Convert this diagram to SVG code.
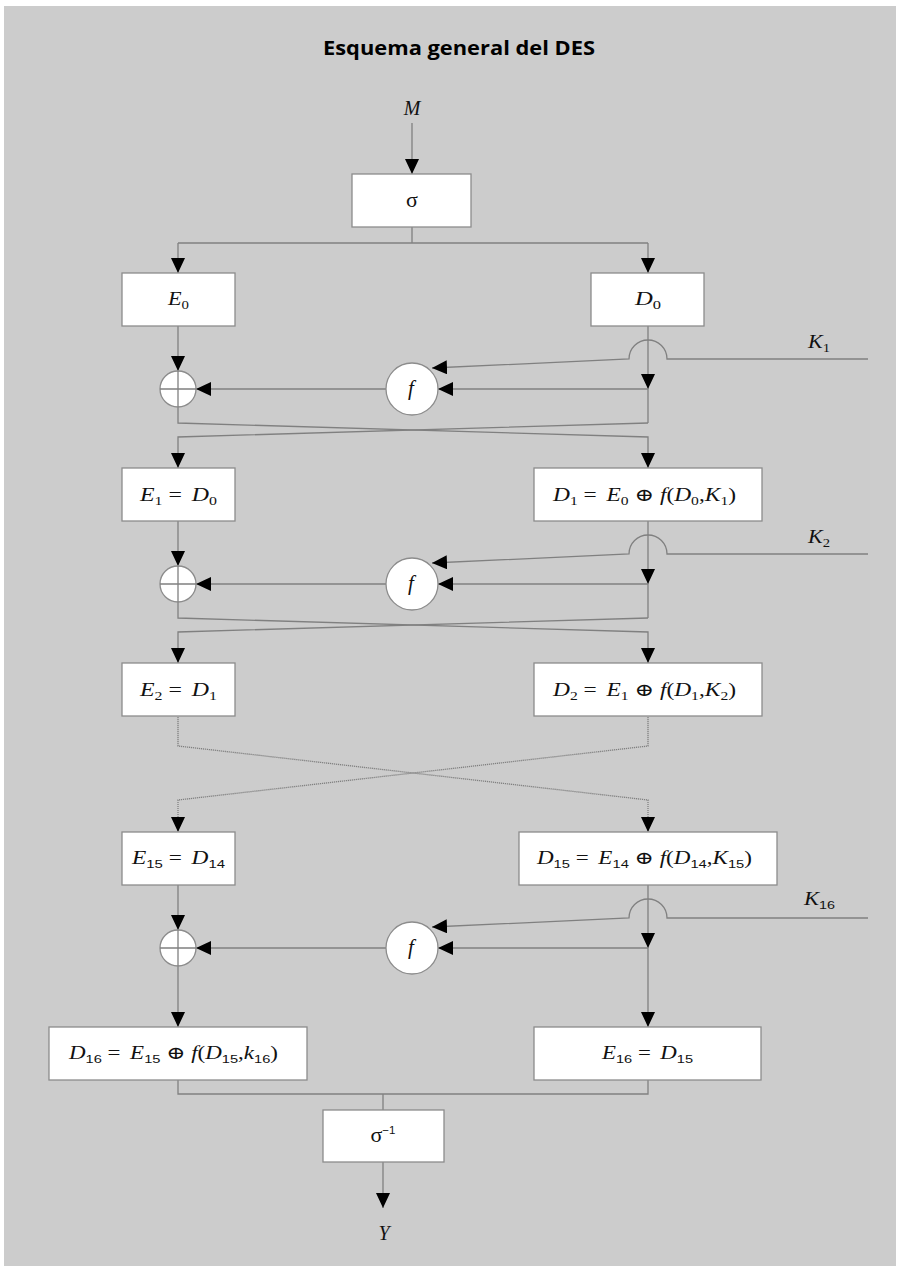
<svg xmlns="http://www.w3.org/2000/svg" width="900" height="1270" viewBox="0 0 900 1270">
  <style>
    .bg { fill: #cccccc; }
    .box { fill: #ffffff; stroke: #8c8c8c; stroke-width: 1.3; }
    .ln { fill: none; stroke: #808080; stroke-width: 1.3; }
    .dot { stroke-dasharray: 1.2 0.8; }
    .title { font-family: "Open Sans", "Liberation Sans", sans-serif; font-weight: bold; font-size: 19.5px; fill: #000; }
    .m { font-family: "Liberation Serif", "DejaVu Serif", serif; font-style: italic; font-size: 18px; fill: #111; }
    .big { font-size: 20px; }
    .fn { font-size: 21px; }
    .up { font-style: normal; }
    .s { font-style: normal; font-size: 12px; }
    .s2 { font-family: "Liberation Sans", "DejaVu Sans", sans-serif; font-style: normal; font-size: 11.5px; }
    .sig { font-family: "Liberation Serif", "DejaVu Serif", serif; font-size: 22px; fill: #111; }
    .sup { font-family: "Liberation Sans", sans-serif; font-size: 11.5px; }
  </style>
  <defs>
    <marker id="arr" markerUnits="userSpaceOnUse" markerWidth="15" markerHeight="14" refX="15" refY="7" orient="auto">
      <path d="M0,0 L15,7 L0,14 Z" fill="#000"/>
    </marker>
  </defs>

  <rect class="bg" x="4" y="6" width="892" height="1260"/>

  <text class="title" x="323" y="55" textLength="272" lengthAdjust="spacingAndGlyphs">Esquema general del DES</text>

  <!-- connectors -->
  <g id="connectors">
    <!-- input and initial permutation -->
    <path class="ln" d="M412,123 V174" marker-end="url(#arr)"/>
    <path class="ln" d="M412,227 V243 M178,243 H648"/>
    <path class="ln" d="M178,243 V273" marker-end="url(#arr)"/>
    <path class="ln" d="M648,243 V273" marker-end="url(#arr)"/>

    <!-- round 1 (T=273) -->
    <path class="ln" d="M178,326 V371" marker-end="url(#arr)"/>
    <path class="ln" d="M386,389 H196" marker-end="url(#arr)"/>
    <path class="ln" d="M648,326 V389" marker-end="url(#arr)"/>
    <path class="ln" d="M648,389 V423"/>
    <path class="ln" d="M648,389 H438" marker-end="url(#arr)"/>
    <path class="ln" d="M868,359 H667 A19,19 0 0 0 629,359 L432,368" marker-end="url(#arr)"/>
    <path class="ln" d="M178,407 V423 L648,437 V468" marker-end="url(#arr)"/>
    <path class="ln" d="M648,423 L178,437 V468" marker-end="url(#arr)"/>

    <!-- round 2 (T=468) -->
    <path class="ln" d="M178,521 V566" marker-end="url(#arr)"/>
    <path class="ln" d="M386,584 H196" marker-end="url(#arr)"/>
    <path class="ln" d="M648,521 V584" marker-end="url(#arr)"/>
    <path class="ln" d="M648,584 V618"/>
    <path class="ln" d="M648,584 H438" marker-end="url(#arr)"/>
    <path class="ln" d="M868,554 H667 A19,19 0 0 0 629,554 L432,563" marker-end="url(#arr)"/>
    <path class="ln" d="M178,602 V618 L648,632 V663" marker-end="url(#arr)"/>
    <path class="ln" d="M648,618 L178,632 V663" marker-end="url(#arr)"/>

    <!-- rounds 3 to 14 omitted -->
    <path class="ln dot" d="M178,717 V746 L648,800 V832" marker-end="url(#arr)"/>
    <path class="ln dot" d="M648,717 V746 L178,800 V832" marker-end="url(#arr)"/>

    <!-- round 16 (T=832) -->
    <path class="ln" d="M178,885 V930" marker-end="url(#arr)"/>
    <path class="ln" d="M386,948 H196" marker-end="url(#arr)"/>
    <path class="ln" d="M648,885 V948" marker-end="url(#arr)"/>
    <path class="ln" d="M648,948 H438" marker-end="url(#arr)"/>
    <path class="ln" d="M868,918 H667 A19,19 0 0 0 629,918 L432,927" marker-end="url(#arr)"/>
    <path class="ln" d="M178,966 V1027" marker-end="url(#arr)"/>
    <path class="ln" d="M648,948 V1027" marker-end="url(#arr)"/>

    <!-- final permutation -->
    <path class="ln" d="M178,1080 V1094 H648 V1080 M383,1094 V1110"/>
    <path class="ln" d="M383,1162 V1208" marker-end="url(#arr)"/>
  </g>

  <text class="m big" x="412" y="115" text-anchor="middle">M</text>
  <text class="m big" x="384" y="1240" text-anchor="middle">Y</text>

  <g id="sigma">
    <rect class="box" x="352" y="174" width="119" height="53"/>
    <text class="sig" x="412" y="207" text-anchor="middle">σ</text>
  </g>

  <!-- round 1 -->
  <g id="E0">
    <rect class="box" x="122" y="273" width="113" height="53"/>
    <text class="m" x="168" y="305" textLength="21" lengthAdjust="spacingAndGlyphs">E<tspan class="s" dy="4">0</tspan></text>
  </g>
  <g id="D0">
    <rect class="box" x="591" y="273" width="113" height="53"/>
    <text class="m" x="635" y="305" textLength="26" lengthAdjust="spacingAndGlyphs">D<tspan class="s" dy="4">0</tspan></text>
  </g>
  <text class="m" x="808" y="348" textLength="22" lengthAdjust="spacingAndGlyphs">K<tspan class="s" dy="4">1</tspan></text>
  <g id="xor1">
    <circle class="box" cx="178" cy="389" r="18"/>
    <path class="ln" d="M160,389 H196 M178,371 V407"/>
  </g>
  <g id="f1">
    <circle class="box" cx="412" cy="389" r="26"/>
    <text class="m fn" x="411" y="395" text-anchor="middle">f</text>
  </g>

  <!-- round 2 -->
  <g id="E1">
    <rect class="box" x="122" y="468" width="113" height="53"/>
    <text class="m" x="140" y="501" textLength="77" lengthAdjust="spacingAndGlyphs">E<tspan class="s" dy="4">1</tspan><tspan class="up" dy="-4"> = </tspan><tspan dx="3">D</tspan><tspan class="s" dy="4">0</tspan></text>
  </g>
  <g id="D1">
    <rect class="box" x="534" y="468" width="228" height="53"/>
    <text class="m" x="553" y="501" textLength="183" lengthAdjust="spacingAndGlyphs">D<tspan class="s" dy="4">1</tspan><tspan class="up" dy="-4"> = </tspan><tspan dx="3">E</tspan><tspan class="s" dy="4">0</tspan><tspan class="up" dy="-4"> ⊕ </tspan>f<tspan class="up">(</tspan>D<tspan class="s" dy="4">0</tspan><tspan class="up" dy="-4">,</tspan>K<tspan class="s" dy="4">1</tspan><tspan class="up" dy="-4">)</tspan></text>
  </g>
  <text class="m" x="808" y="543" textLength="22" lengthAdjust="spacingAndGlyphs">K<tspan class="s" dy="4">2</tspan></text>
  <g id="xor2">
    <circle class="box" cx="178" cy="584" r="18"/>
    <path class="ln" d="M160,584 H196 M178,566 V602"/>
  </g>
  <g id="f2">
    <circle class="box" cx="412" cy="584" r="26"/>
    <text class="m fn" x="411" y="590" text-anchor="middle">f</text>
  </g>

  <!-- round 3 -->
  <g id="E2">
    <rect class="box" x="122" y="663" width="113" height="53"/>
    <text class="m" x="140" y="696" textLength="77" lengthAdjust="spacingAndGlyphs">E<tspan class="s" dy="4">2</tspan><tspan class="up" dy="-4"> = </tspan><tspan dx="3">D</tspan><tspan class="s" dy="4">1</tspan></text>
  </g>
  <g id="D2">
    <rect class="box" x="534" y="663" width="228" height="53"/>
    <text class="m" x="553" y="696" textLength="183" lengthAdjust="spacingAndGlyphs">D<tspan class="s" dy="4">2</tspan><tspan class="up" dy="-4"> = </tspan><tspan dx="3">E</tspan><tspan class="s" dy="4">1</tspan><tspan class="up" dy="-4"> ⊕ </tspan>f<tspan class="up">(</tspan>D<tspan class="s" dy="4">1</tspan><tspan class="up" dy="-4">,</tspan>K<tspan class="s" dy="4">2</tspan><tspan class="up" dy="-4">)</tspan></text>
  </g>

  <!-- round 16 -->
  <g id="E15">
    <rect class="box" x="122" y="832" width="113" height="53"/>
    <text class="m" x="132" y="864" textLength="93" lengthAdjust="spacingAndGlyphs">E<tspan class="s2" dy="4">15</tspan><tspan class="up" dy="-4"> = </tspan><tspan dx="3">D</tspan><tspan class="s2" dy="4">14</tspan></text>
  </g>
  <g id="D15">
    <rect class="box" x="519" y="832" width="258" height="53"/>
    <text class="m" x="537" y="864" textLength="215" lengthAdjust="spacingAndGlyphs">D<tspan class="s2" dy="4">15</tspan><tspan class="up" dy="-4"> = </tspan><tspan dx="3">E</tspan><tspan class="s2" dy="4">14</tspan><tspan class="up" dy="-4"> ⊕ </tspan>f<tspan class="up">(</tspan>D<tspan class="s2" dy="4">14</tspan><tspan class="up" dy="-4">,</tspan>K<tspan class="s2" dy="4">15</tspan><tspan class="up" dy="-4">)</tspan></text>
  </g>
  <text class="m" x="804" y="905" textLength="31" lengthAdjust="spacingAndGlyphs">K<tspan class="s2" dy="4">16</tspan></text>
  <g id="xor16">
    <circle class="box" cx="178" cy="948" r="18"/>
    <path class="ln" d="M160,948 H196 M178,930 V966"/>
  </g>
  <g id="f16">
    <circle class="box" cx="412" cy="948" r="26"/>
    <text class="m fn" x="411" y="954" text-anchor="middle">f</text>
  </g>

  <!-- output halves -->
  <g id="D16">
    <rect class="box" x="49" y="1027" width="258" height="53"/>
    <text class="m" x="69" y="1059" textLength="209" lengthAdjust="spacingAndGlyphs">D<tspan class="s2" dy="4">16</tspan><tspan class="up" dy="-4"> = </tspan><tspan dx="3">E</tspan><tspan class="s2" dy="4">15</tspan><tspan class="up" dy="-4"> ⊕ </tspan>f<tspan class="up">(</tspan>D<tspan class="s2" dy="4">15</tspan><tspan class="up" dy="-4">,</tspan>k<tspan class="s2" dy="4">16</tspan><tspan class="up" dy="-4">)</tspan></text>
  </g>
  <g id="E16">
    <rect class="box" x="534" y="1027" width="227" height="53"/>
    <text class="m" x="602" y="1059" textLength="91" lengthAdjust="spacingAndGlyphs">E<tspan class="s2" dy="4">16</tspan><tspan class="up" dy="-4"> = </tspan><tspan dx="3">D</tspan><tspan class="s2" dy="4">15</tspan></text>
  </g>

  <g id="sigma-inv">
    <rect class="box" x="323" y="1110" width="121" height="52"/>
    <text class="sig" x="383" y="1142" text-anchor="middle">σ<tspan class="sup" dy="-8">−1</tspan></text>
  </g>
</svg>
